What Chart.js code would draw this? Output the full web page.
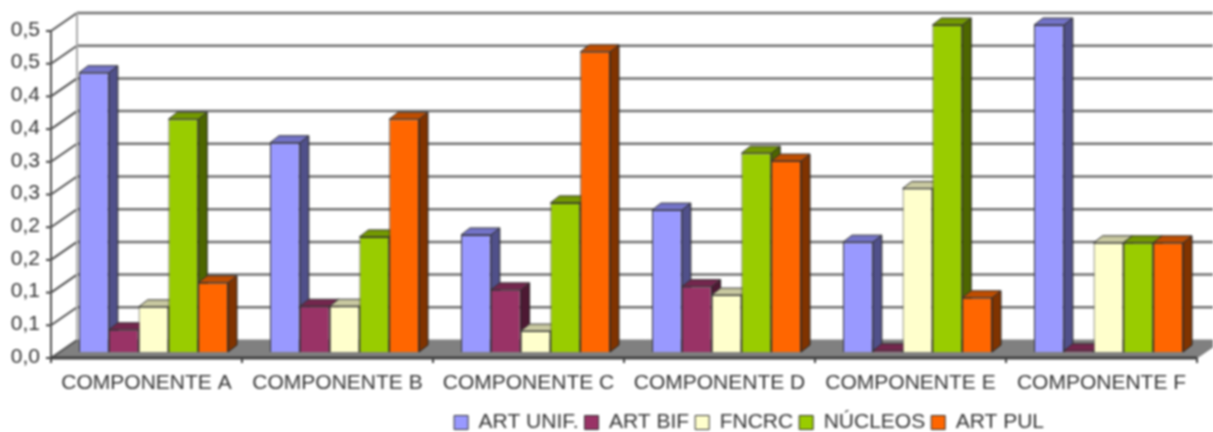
<!DOCTYPE html>
<html>
<head>
<meta charset="utf-8">
<title>Componentes</title>
<script src="https://cdn.jsdelivr.net/npm/chart.js@4/dist/chart.umd.min.js"></script>
<style>
  html, body { margin: 0; padding: 0; background: #fff; }
  canvas { display: block; filter: blur(0.8px); }
</style>
</head>
<body>
<canvas id="grafico" width="1213" height="432"></canvas>
<script>
const categorias = ['COMPONENTE A', 'COMPONENTE B', 'COMPONENTE C', 'COMPONENTE D', 'COMPONENTE E', 'COMPONENTE F'];
const etiquetasY = ['0,0', '0,1', '0,1', '0,2', '0,2', '0,3', '0,3', '0,4', '0,4', '0,5', '0,5'];

const artUnif = [0.427, 0.320, 0.179, 0.217, 0.168, 0.500];
const artBif = [0.034, 0.070, 0.095, 0.100, 0.002, 0.002];
const fncrc = [0.069, 0.070, 0.032, 0.087, 0.250, 0.167];
const nucleos = [0.356, 0.176, 0.228, 0.304, 0.500, 0.167];
const artPul = [0.106, 0.356, 0.459, 0.292, 0.083, 0.167];

// frente, lado, tapa de cada serie
const colores = ['#9999FF', '#993366', '#FFFFCC', '#99CC00', '#FF6600'];
const coloresLado = ['#50508A', '#4D1933', '#808066', '#4D6600', '#803300'];
const coloresTapa = ['#7373C8', '#73264D', '#C8C8A0', '#739900', '#BF4D00'];

// profundidad 3D
const paredX = 19, paredY = 12;   // plano de barras -> pared del fondo
const frenteX = 7, frenteY = 6;   // plano de barras -> eje delantero
const barraX = 9, barraY = 7;

function poligono(ctx, puntos, relleno, borde) {
    ctx.beginPath();
    puntos.forEach((p, i) => i ? ctx.lineTo(p[0], p[1]) : ctx.moveTo(p[0], p[1]));
    ctx.closePath();
    ctx.fillStyle = relleno;
    ctx.fill();
    ctx.strokeStyle = borde;
    ctx.lineWidth = 1;
    ctx.stroke();
}

function linea(ctx, x1, y1, x2, y2, color, ancho) {
    ctx.beginPath();
    ctx.moveTo(x1, y1);
    ctx.lineTo(x2, y2);
    ctx.strokeStyle = color;
    ctx.lineWidth = ancho;
    ctx.stroke();
}

const grafico3d = {
    id: 'grafico3d',
    afterLayout(chart) {
        // la leyenda no va centrada en el original
        chart.legend.right = 1050;
        chart.legend.top = 406;
    },
    beforeDatasetsDraw(chart) {
        const ctx = chart.ctx;
        const x = chart.scales.x;
        const y = chart.scales.y;
        const izq = x.left - frenteX;
        const der = x.right - frenteX;
        const base = y.bottom + frenteY;
        ctx.save();

        // suelo
        poligono(ctx, [[izq, base], [x.left + paredX, y.bottom - paredY], [der + frenteX + paredX, y.bottom - paredY], [der, base]], '#808080', '#808080');

        // pared del fondo, pared lateral y rejilla
        y.ticks.forEach(t => {
            const p = y.getPixelForValue(t.value);
            if (t.value > 0) {
                linea(ctx, x.left + paredX, p - paredY, chart.width, p - paredY, '#707070', 2.5);
            }
            linea(ctx, izq, p + frenteY, x.left + paredX, p - paredY, '#505050', 2);
            linea(ctx, izq - 5, p + frenteY, izq, p + frenteY, '#404040', 2);
        });
        linea(ctx, x.left + paredX, y.top - paredY, x.left + paredX, y.bottom - paredY, '#AAAAAA', 2);
        linea(ctx, izq, y.top + frenteY, izq, base, '#505050', 2);
        linea(ctx, izq, base, der, base, '#404040', 3);

        // marcas del eje x
        const paso = (x.right - x.left) / categorias.length;
        for (let i = 0; i <= categorias.length; i++) {
            linea(ctx, izq + i * paso, base, izq + i * paso, base + 5, '#404040', 2);
        }

        // lado y tapa de las barras, el frente lo pinta Chart.js encima
        chart.data.datasets.forEach((ds, i) => {
            chart.getDatasetMeta(i).data.forEach(b => {
                const l = b.x - b.width / 2;
                const r = b.x + b.width / 2;
                poligono(ctx, [[r, b.y], [r + barraX, b.y - barraY], [r + barraX, b.base - barraY], [r, b.base]], coloresLado[i], '#222222');
                poligono(ctx, [[l, b.y], [l + barraX, b.y - barraY], [r + barraX, b.y - barraY], [r, b.y]], coloresTapa[i], '#333333');
            });
        });
        ctx.restore();
    }
};

function serie(label, data, i) {
    return {
        label: label,
        data: data,
        backgroundColor: colores[i],
        borderColor: '#333333',
        borderWidth: 1
    };
}

new Chart(document.getElementById('grafico').getContext('2d'), {
    type: 'bar',
    data: {
        labels: categorias,
        datasets: [
            serie('ART UNIF.', artUnif, 0),
            serie('ART BIF', artBif, 1),
            serie('FNCRC', fncrc, 2),
            serie('NÚCLEOS', nucleos, 3),
            serie('ART PUL', artPul, 4)
        ]
    },
    options: {
        responsive: false,
        animation: false,
        layout: { padding: { top: 25, right: 9, left: 0, bottom: 0 } },
        datasets: { bar: { categoryPercentage: 0.78, barPercentage: 1 } },
        scales: {
            x: {
                grid: { display: false },
                border: { display: false },
                afterFit(scale) { scale.height = 432 - 352 - scale.chart.legend.height; },
                ticks: {
                    color: '#333333',
                    font: { family: 'Liberation Sans', size: 21 },
                    padding: 11,
                    labelOffset: -frenteX,
                    maxRotation: 0,
                    autoSkip: false
                }
            },
            y: {
                min: 0,
                max: 0.5,
                grid: { display: false },
                border: { display: false },
                afterFit(scale) {
                    scale.width = 58;
                    scale.paddingTop = 0;
                    scale.paddingBottom = 0;
                },
                ticks: {
                    stepSize: 0.05,
                    autoSkip: false,
                    color: '#333333',
                    font: { family: 'Liberation Sans', size: 21 },
                    padding: 10,
                    labelOffset: 5,
                    callback: (v, i) => etiquetasY[i]
                }
            }
        },
        plugins: {
            tooltip: { enabled: false },
            legend: {
                position: 'bottom',
                align: 'end',
                labels: {
                    boxWidth: 14,
                    boxHeight: 14,
                    padding: 6,
                    color: '#333333',
                    font: { family: 'Liberation Sans', size: 21 }
                }
            }
        }
    },
    plugins: [grafico3d]
});
</script>
</body>
</html>
